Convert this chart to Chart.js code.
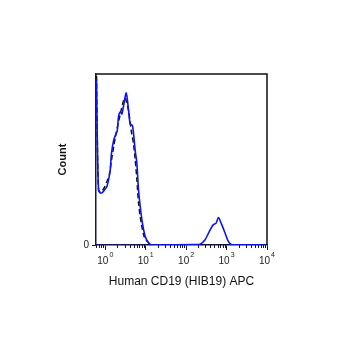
<!DOCTYPE html>
<html lang="en">
<head>
    <meta charset="UTF-8">
    <title>Human CD19 (HIB19) APC</title>
    <script src="https://cdn.jsdelivr.net/npm/chart.js"></script>
    <style>
        body {
            margin: 0;
            background: white;
        }
        #wrap {
            width: 348px;
            height: 348px;
        }
    </style>
</head>
<body>
    <div id="wrap"><canvas id="histChart" width="348" height="348"></canvas></div>

    <script>
        // stained sample (blue solid)
        const stainedX = [0.607, 0.641, 0.684, 0.753, 0.829, 0.945, 1.10, 1.33, 1.41, 1.60, 1.84, 1.98, 2.13, 2.35, 2.58, 2.83, 3.30, 3.76, 4.14, 4.72, 5.50, 6.06, 6.64, 8.05, 9.72, 11.7, 13.7, 17.2, 167, 222, 294, 392, 472, 551, 628, 761, 918, 1107, 1343, 10000];
        const stainedCounts = [97.1, 55.6, 32.1, 30.5, 30.5, 32.0, 34.2, 44.0, 52.7, 60.9, 65.0, 66.7, 75.1, 77.8, 76.6, 81.3, 88.9, 79.0, 70.8, 69.8, 55.2, 47.5, 32.3, 14.8, 5.0, 1.3, 0.2, 0, 0.2, 0.5, 3.1, 8.9, 11.9, 12.8, 16.1, 11.9, 7.0, 2.1, 0.2, 0];

        // isotype control (black dashed)
        const controlX = [0.607, 0.641, 0.684, 0.753, 0.829, 0.945, 1.10, 1.26, 1.38, 1.77, 2.35, 2.83, 3.12, 3.76, 4.39, 5.00, 5.50, 6.06, 6.64, 7.74, 9.34, 11.7, 13.7, 22.8, 10000];
        const controlCounts = [99, 55.6, 32.1, 31.0, 31.5, 33.5, 37.1, 41.0, 47.5, 63.0, 76.6, 84.4, 86.0, 78.6, 66.9, 59.1, 49.8, 38.1, 24.7, 13.0, 4.3, 1.3, 0.2, 0, 0];

        const xTickValues = [1, 10, 100, 1000, 10000];
        const xTickBase = '10';
        const xTickExponents = ['0', '1', '2', '3', '4'];
        const yTickValues = [0];
        const yTickLabels = ['0'];

        const axisColor = '#15154d';

        // frame on top/right, minor log ticks, 10^n labels
        const framePlugin = {
            id: 'frame',
            afterDraw(chart) {
                const ctx = chart.ctx;
                const a = chart.chartArea;
                ctx.save();
                ctx.strokeStyle = '#111';
                ctx.lineWidth = 1.5;
                ctx.beginPath();
                ctx.moveTo(a.left, a.top);
                ctx.lineTo(a.right, a.top);
                ctx.lineTo(a.right, a.bottom);
                ctx.stroke();

                const xs = chart.scales.x;
                ctx.strokeStyle = axisColor;
                ctx.lineWidth = 1;
                ctx.beginPath();
                for (let k = -1; k < 4; k++) {
                    for (let d = 2; d < 10; d++) {
                        const v = d * Math.pow(10, k);
                        if (v < xs.min || v > xs.max) continue;
                        const px = Math.round(xs.getPixelForValue(v)) + 0.5;
                        ctx.moveTo(px, a.bottom);
                        ctx.lineTo(px, a.bottom + 3);
                    }
                }
                ctx.stroke();

                // tick labels with superscript exponent
                ctx.fillStyle = '#222';
                ctx.textBaseline = 'alphabetic';
                ctx.textAlign = 'left';
                xTickValues.forEach((v, i) => {
                    const px = xs.getPixelForValue(v);
                    ctx.font = '10px "Liberation Sans"';
                    const wBase = ctx.measureText(xTickBase).width;
                    ctx.font = '7px "Liberation Sans"';
                    const wExp = ctx.measureText(xTickExponents[i]).width;
                    const x0 = px - (wBase + 1 + wExp) / 2;
                    ctx.font = '10px "Liberation Sans"';
                    ctx.fillText(xTickBase, x0, a.bottom + 19);
                    ctx.font = '7px "Liberation Sans"';
                    ctx.fillText(xTickExponents[i], x0 + wBase + 1, a.bottom + 12);
                });
                ctx.restore();
            }
        };

        const stainedData = stainedX.map((x, i) => ({ x: x, y: stainedCounts[i] }));
        const controlData = controlX.map((x, i) => ({ x: x, y: controlCounts[i] }));

        new Chart(document.getElementById('histChart').getContext('2d'), {
            type: 'line',
            data: {
                datasets: [{
                    label: 'Human CD19 (HIB19) APC',
                    data: stainedData,
                    borderColor: '#0a14f0',
                    borderWidth: 1.6,
                    pointRadius: 0,
                    fill: false,
                    tension: 0.25
                }, {
                    label: 'Control',
                    data: controlData,
                    borderColor: '#111',
                    borderWidth: 1.5,
                    borderDash: [5, 3],
                    pointRadius: 0,
                    fill: false,
                    tension: 0.25
                }]
            },
            options: {
                responsive: false,
                animation: false,
                layout: {
                    padding: { top: 74, right: 81, bottom: 59, left: 0 }
                },
                plugins: {
                    legend: { display: false },
                    tooltip: { enabled: false }
                },
                scales: {
                    x: {
                        type: 'logarithmic',
                        min: 0.59,
                        max: 10000,
                        afterBuildTicks: (scale) => {
                            scale.ticks = xTickValues.map(v => ({ value: v }));
                        },
                        afterFit: (scale) => { scale.height = 44; },
                        ticks: {
                            display: false
                        },
                        grid: {
                            drawOnChartArea: false,
                            tickLength: 5,
                            tickColor: axisColor
                        },
                        border: { color: axisColor, width: 1.5 },
                        title: {
                            display: true,
                            text: 'Human CD19 (HIB19) APC',
                            color: '#111',
                            font: { family: 'Liberation Sans', size: 12 },
                            padding: { top: 4, bottom: 0 }
                        }
                    },
                    y: {
                        min: 0,
                        max: 100,
                        afterBuildTicks: (scale) => {
                            scale.ticks = yTickValues.map(v => ({ value: v }));
                        },
                        afterFit: (scale) => { scale.width = 96; },
                        ticks: {
                            padding: 3,
                            color: '#222',
                            font: { family: 'Liberation Sans', size: 10 },
                            callback: (value, index) => yTickLabels[index]
                        },
                        grid: {
                            drawOnChartArea: false,
                            tickLength: 4,
                            tickColor: axisColor
                        },
                        border: { color: axisColor, width: 1.5 },
                        title: {
                            display: true,
                            text: 'Count',
                            color: '#111',
                            font: { family: 'Liberation Sans', size: 11, weight: 'bold' },
                            padding: { top: 56, bottom: 0 }
                        }
                    }
                }
            },
            plugins: [framePlugin]
        });
    </script>
</body>
</html>
